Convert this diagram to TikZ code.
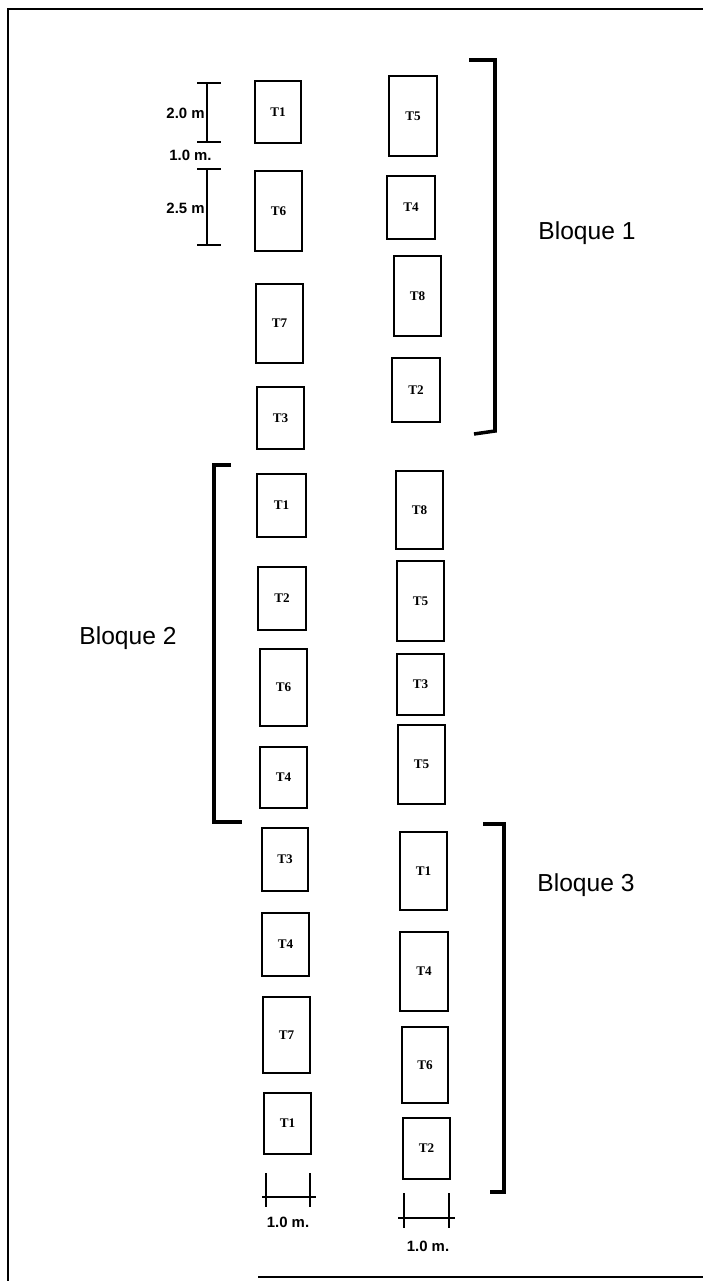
\documentclass[tikz,border=0pt]{standalone}
\usepackage{fontspec}
\setmainfont{Liberation Sans}
\newfontfamily\tfont{Liberation Serif}

\begin{document}
\begin{tikzpicture}[x=0.02cm,y=-0.02cm]%
\useasboundingbox (0,0) rectangle (703,1281);

      \tikzstyle{parcela}=[draw,line width=1.2pt,inner sep=0,font=\tfont\bfseries\fontsize{7.5}{8}\selectfont]
      \tikzstyle{corchete}=[line width=2pt]
      \tikzstyle{cota}=[line width=0.7pt]
      \tikzstyle{bloque}=[font=\fontsize{14}{16}\selectfont]
      \tikzstyle{medida}=[font=\bfseries\fontsize{8.5}{10}\selectfont,inner sep=0]

% marco
\draw[line width=0.9pt] (8,1281) -- (8,9) -- (703,9);
\draw[line width=0.9pt] (258,1277) -- (703,1277);

% columna izquierda
\foreach \xa/\ya/\xb/\yb/\t [count=\i] in {255/81/301/143/T1, 255/171/302/251/T6,
    256/284/303/363/T7, 257/387/304/449/T3, 257/474/306/537/T1, 258/567/306/630/T2,
    260/649/307/726/T6, 260/747/307/808/T4, 262/828/308/891/T3, 262/913/309/976/T4,
    263/997/310/1073/T7, 264/1093/311/1154/T1}
  \node[parcela,minimum width=(\xb-\xa)*0.02cm,minimum height=(\yb-\ya)*0.02cm]
    (iz\i) at ({(\xa+\xb)/2},{(\ya+\yb)/2}) {\t};

% columna derecha
\foreach \xa/\ya/\xb/\yb/\t [count=\i] in {389/76/437/156/T5, 387/176/435/239/T4,
    394/256/441/336/T8, 392/358/440/422/T2, 396/471/443/549/T8, 397/561/444/641/T5,
    397/654/444/715/T3, 398/725/445/804/T5, 400/832/447/910/T1, 400/932/448/1011/T4,
    402/1027/448/1103/T6, 403/1118/450/1179/T2}
  \node[parcela,minimum width=(\xb-\xa)*0.02cm,minimum height=(\yb-\ya)*0.02cm]
    (de\i) at ({(\xa+\xb)/2},{(\ya+\yb)/2}) {\t};

% bloques
\draw[corchete] (469,60) -- (495,60) -- (495,431) -- (474,434);
\draw[corchete] (231,465) -- (214,465) -- (214,822) -- (242,822);
\draw[corchete] (483,824) -- (504,824) -- (504,1192) -- (490,1192);
\node[bloque] (b1) at (587,233) {Bloque 1};
\node[bloque] (b2) at (128,638) {Bloque 2};
\node[bloque] (b3) at (586,885) {Bloque 3};

% cotas
\draw[cota] (207,83) -- (207,142) (197,83) -- (221,83) (197,142) -- (221,142);
\draw[cota] (207,169) -- (207,245) (197,169) -- (221,169) (197,245) -- (221,245);
\node[medida,anchor=east] (m1) at (205,113) {2.0 m};
\node[medida,anchor=east] (m2) at (212,155) {1.0 m.};
\node[medida,anchor=east] (m3) at (205,208) {2.5 m};

\draw[cota] (266,1173) -- (266,1207) (310,1173) -- (310,1207) (262,1197) -- (316,1197);
\draw[cota] (404,1193) -- (404,1228) (449,1193) -- (449,1228) (398,1218) -- (455,1218);
\node[medida] (m4) at (288,1222) {1.0 m.};
\node[medida] (m5) at (428,1246) {1.0 m.};

\end{tikzpicture}
\end{document}
